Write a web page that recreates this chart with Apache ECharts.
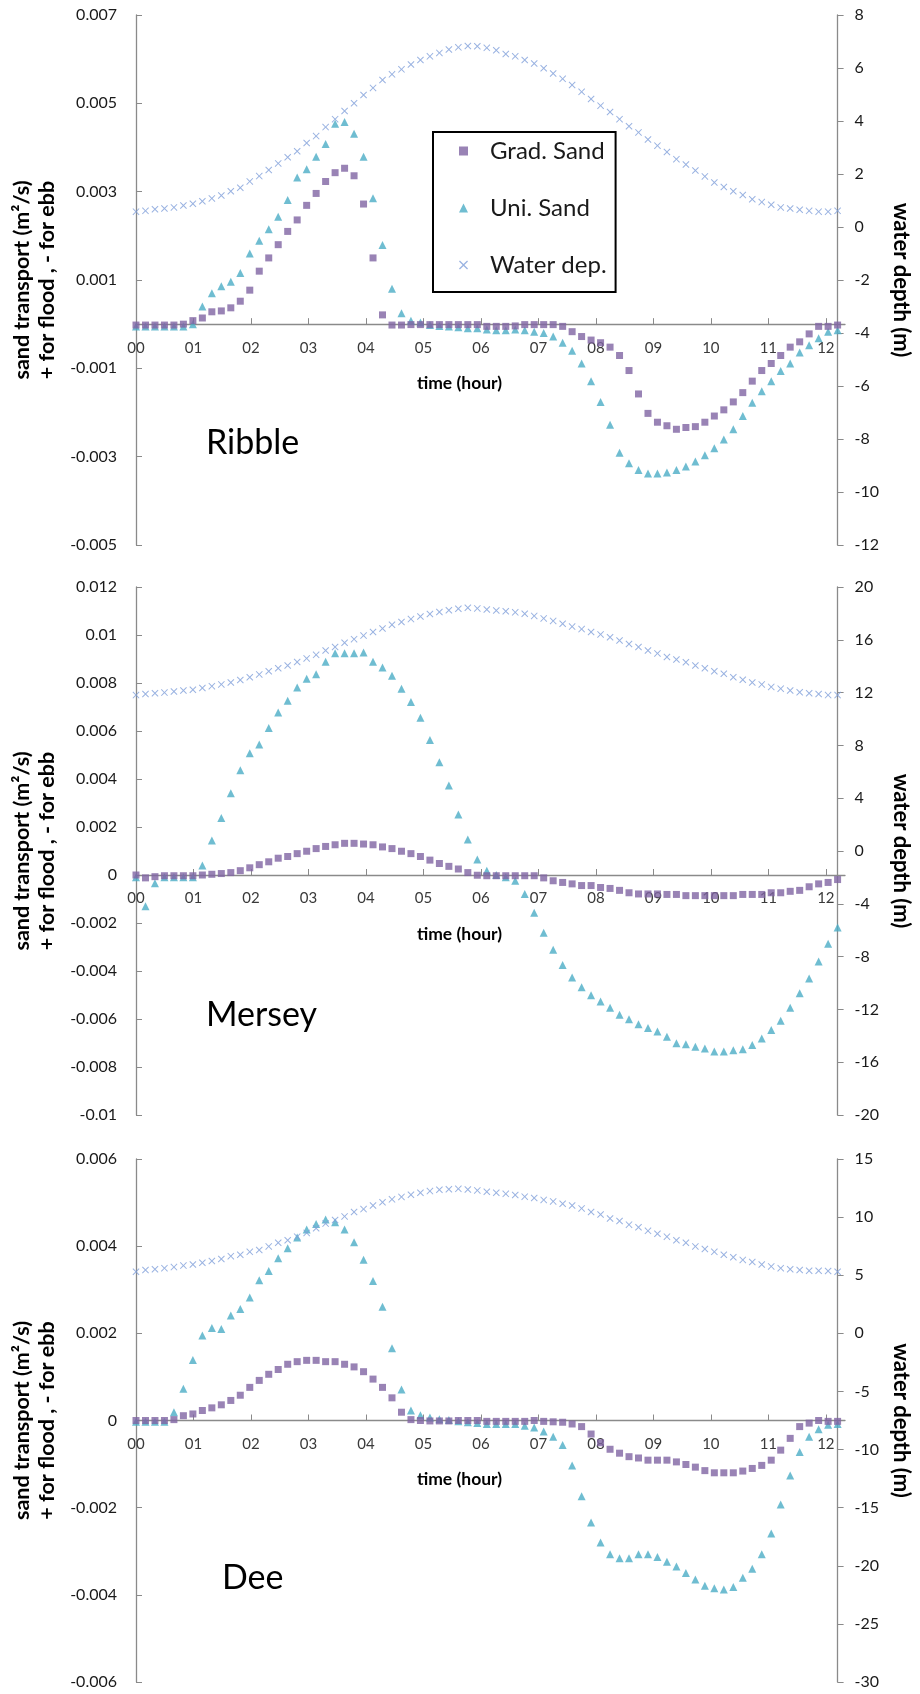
<!DOCTYPE html>
<html>
<head>
<meta charset="utf-8">
<title>Sand transport and water depth</title>
<script src="https://cdn.jsdelivr.net/npm/echarts@6/dist/echarts.min.js"></script>
<style>
    html, body { margin: 0; padding: 0; background: #fff; }
    #chart { width: 920px; height: 1694px; }
</style>
</head>
<body>
<div id="chart"></div>
<script>
// sand transport (m2/s, + flood / - ebb) and water depth (m), one value every 10 min (00:00 .. 12:20)
var hourLabels = ['00', '01', '02', '03', '04', '05', '06', '07', '08', '09', '10', '11', '12'];
var stepsPerHour = 6;
var stepCount = 75;

var ribbleGrad = [
    -0.00002, -0.00002, -0.00002, -0.00002, -0.00002, 0.00000,
    0.00008, 0.00014, 0.00028, 0.00030, 0.00037, 0.00052, 0.00077, 0.00120, 0.00150, 0.00180,
    0.00210, 0.00236, 0.00269, 0.00296, 0.00323, 0.00343, 0.00353, 0.00336, 0.00272, 0.00150, 0.00021,
    -0.00002, -0.00002,
    -0.00001, -0.00001, -0.00001, -0.00001, -0.00001, -0.00001, -0.00001, -0.00001,
    -0.00005, -0.00005, -0.00005, -0.00004, -0.00001, -0.00001, -0.00001, -0.00001,
    -0.00005, -0.00017, -0.00028, -0.00036, -0.00042, -0.00052, -0.00071, -0.00105, -0.00158, -0.00202,
    -0.00222, -0.00230, -0.00238, -0.00234, -0.00232, -0.00222, -0.00208, -0.00194, -0.00176, -0.00155,
    -0.00129, -0.00105, -0.00089, -0.00071, -0.00052, -0.00040, -0.00022, -0.00005, -0.00005, -0.00002
];
var ribbleUni = [
    -0.00005, -0.00005, -0.00005, -0.00005, -0.00005, -0.00005,
    0.00000, 0.00040, 0.00070, 0.00086, 0.00096, 0.00116, 0.00160, 0.00189, 0.00215, 0.00243,
    0.00281, 0.00332, 0.00351, 0.00379, 0.00408, 0.00454, 0.00458, 0.00431, 0.00379, 0.00285,
    0.00179, 0.00080, 0.00025, 0.00008, 0.00004, -0.00002, -0.00004, -0.00005, -0.00007,
    -0.00009, -0.00009, -0.00012, -0.00014, -0.00014, -0.00012, -0.00014, -0.00017, -0.00020, -0.00028,
    -0.00042, -0.00060, -0.00089, -0.00129, -0.00176, -0.00228, -0.00291, -0.00315, -0.00330, -0.00338,
    -0.00338, -0.00336, -0.00330, -0.00322, -0.00311, -0.00297, -0.00281, -0.00261, -0.00238, -0.00208,
    -0.00178, -0.00152, -0.00129, -0.00106, -0.00089, -0.00064, -0.00048, -0.00032, -0.00017, -0.00014
];
var ribbleWater = [
    0.58, 0.61, 0.67, 0.70, 0.74, 0.81, 0.88, 0.97, 1.08, 1.19, 1.35, 1.48, 1.72, 1.92, 2.15,
    2.40, 2.63, 2.86, 3.17, 3.43, 3.77, 4.07, 4.38, 4.67, 4.98, 5.25, 5.55, 5.76, 5.95, 6.13,
    6.30, 6.44, 6.57, 6.70, 6.78, 6.83, 6.82, 6.76, 6.67, 6.53, 6.44, 6.30, 6.17, 5.99, 5.79,
    5.59, 5.36, 5.10, 4.83, 4.58, 4.34, 4.07, 3.80, 3.57, 3.30, 3.07, 2.83, 2.56, 2.36, 2.13,
    1.91, 1.68, 1.51, 1.35, 1.21, 1.05, 0.94, 0.84, 0.74, 0.70, 0.65, 0.61, 0.58, 0.58, 0.61
];

var merseyGrad = [
    0.00000, -0.00012, -0.00007, -0.00003, -0.00003, -0.00003, -0.00003, 0.00000, 0.00003, 0.00006,
    0.00010, 0.00018, 0.00030, 0.00043, 0.00055, 0.00070, 0.00077, 0.00089, 0.00099, 0.00110,
    0.00119, 0.00126, 0.00132, 0.00132, 0.00129, 0.00126, 0.00117, 0.00110, 0.00099, 0.00089,
    0.00077, 0.00062, 0.00048, 0.00036, 0.00025, 0.00010, -0.00001,
    -0.00003, -0.00003, -0.00003, -0.00003, -0.00003, -0.00003,
    -0.00012, -0.00024, -0.00031, -0.00037, -0.00044, -0.00044, -0.00052, -0.00056, -0.00064, -0.00074,
    -0.00079, -0.00079, -0.00079, -0.00081, -0.00081, -0.00086, -0.00086, -0.00086, -0.00086, -0.00086,
    -0.00086, -0.00081, -0.00081, -0.00081, -0.00074, -0.00074, -0.00068, -0.00064, -0.00049, -0.00037,
    -0.00031, -0.00019
];
var merseyUni = [
    -0.00009, -0.00130, -0.00034, -0.00009, -0.00009, -0.00009, -0.00009, 0.00040, 0.00144, 0.00237,
    0.00341, 0.00436, 0.00507, 0.00544, 0.00613, 0.00677, 0.00726, 0.00781, 0.00818, 0.00836,
    0.00889, 0.00924, 0.00924, 0.00924, 0.00927, 0.00889, 0.00865, 0.00830, 0.00776, 0.00721,
    0.00655, 0.00563, 0.00470, 0.00373, 0.00252,
    0.00148, 0.00065, 0.00018, 0.00000, -0.00009, -0.00024, -0.00079, -0.00157, -0.00241, -0.00311,
    -0.00375, -0.00427, -0.00468, -0.00501, -0.00527, -0.00553, -0.00582, -0.00601, -0.00622, -0.00637,
    -0.00652, -0.00674, -0.00701, -0.00705, -0.00716, -0.00723, -0.00735, -0.00735, -0.00730, -0.00726,
    -0.00708, -0.00681, -0.00646, -0.00607, -0.00553, -0.00493, -0.00431, -0.00360, -0.00286, -0.00219
];
var merseyWater = [
    11.81, 11.89, 11.95, 12.00, 12.08, 12.16, 12.22, 12.35, 12.49, 12.62, 12.76, 12.95, 13.16, 13.38, 13.62,
    13.84, 14.05, 14.32, 14.59, 14.86, 15.19, 15.46, 15.78, 16.05, 16.32, 16.59, 16.86, 17.14, 17.35, 17.57,
    17.76, 17.95, 18.11, 18.24, 18.35, 18.43, 18.38, 18.30, 18.22, 18.16, 18.08, 17.97, 17.81, 17.62, 17.43,
    17.22, 17.00, 16.81, 16.59, 16.41, 16.19, 15.95, 15.68, 15.46, 15.19, 14.97, 14.70, 14.51, 14.30, 14.05,
    13.84, 13.62, 13.43, 13.16, 12.97, 12.76, 12.62, 12.43, 12.30, 12.16, 12.03, 11.95, 11.89, 11.81, 11.81
];

var deeGrad = [
    0.00000, 0.00000, 0.00000, 0.00000, 0.00002, 0.00011, 0.00015, 0.00023, 0.00029, 0.00036,
    0.00046, 0.00058, 0.00076, 0.00092, 0.00106, 0.00117, 0.00129, 0.00135, 0.00138, 0.00138,
    0.00135, 0.00135, 0.00129, 0.00123, 0.00112, 0.00095, 0.00076, 0.00052, 0.00019, 0.00002, 0.00000,
    -0.00001, -0.00001, -0.00001, 0.00000, 0.00000, 0.00000, -0.00002, -0.00002, -0.00002, -0.00002,
    -0.00002, 0.00000, -0.00002, -0.00003,
    -0.00004, -0.00008, -0.00014, -0.00031, -0.00051, -0.00066, -0.00075, -0.00083, -0.00086, -0.00091,
    -0.00091, -0.00091, -0.00095, -0.00101, -0.00107, -0.00115, -0.00120, -0.00120, -0.00120, -0.00116,
    -0.00110, -0.00103, -0.00091, -0.00068, -0.00041, -0.00014, -0.00006, 0.00000, -0.00002, -0.00002
];
var deeUni = [
    -0.00003, -0.00003, -0.00003, -0.00003, 0.00019, 0.00073, 0.00139, 0.00195, 0.00212, 0.00210,
    0.00241, 0.00256, 0.00282, 0.00322, 0.00343, 0.00372, 0.00395, 0.00420, 0.00438, 0.00451,
    0.00461, 0.00455, 0.00438, 0.00409, 0.00369, 0.00320, 0.00261, 0.00166, 0.00071, 0.00023,
    0.00012, 0.00007, 0.00003, 0.00001, -0.00002,
    -0.00004, -0.00006, -0.00008, -0.00008, -0.00008, -0.00008, -0.00012, -0.00016, -0.00025, -0.00037,
    -0.00056, -0.00103, -0.00174, -0.00234, -0.00280, -0.00307, -0.00316, -0.00316, -0.00307, -0.00307,
    -0.00313, -0.00324, -0.00335, -0.00350, -0.00365, -0.00379, -0.00385, -0.00388, -0.00382, -0.00361,
    -0.00340, -0.00307, -0.00259, -0.00193, -0.00126, -0.00072, -0.00037, -0.00020, -0.00010, -0.00008
];
var deeWater = [
    5.30, 5.45, 5.51, 5.61, 5.70, 5.83, 5.92, 6.07, 6.23, 6.39, 6.64, 6.76, 7.01, 7.17, 7.48,
    7.79, 8.01, 8.32, 8.64, 9.04, 9.44, 9.75, 10.06, 10.44, 10.69, 11.00, 11.28, 11.53, 11.74, 11.93,
    12.09, 12.24, 12.35, 12.40, 12.43, 12.38, 12.30, 12.18, 12.10, 12.00, 11.90, 11.76, 11.65, 11.48, 11.35,
    11.15, 11.00, 10.75, 10.44, 10.22, 9.88, 9.66, 9.35, 9.13, 8.82, 8.57, 8.32, 8.01, 7.79, 7.48,
    7.26, 7.01, 6.76, 6.54, 6.32, 6.14, 5.92, 5.76, 5.61, 5.51, 5.45, 5.39, 5.39, 5.36, 5.30
];

var seriesNames = ['Grad. Sand', 'Uni. Sand', 'Water dep.'];

// one entry per panel; layout (pixels) kept apart from the data above
var panels = [
    { title: 'Ribble', grad: ribbleGrad, uni: ribbleUni, water: ribbleWater,
      sand: [-0.005, 0.007, 0.002], depth: [-12, 8, 2], top: 15, height: 530, titleX: 206, titleY: 426 },
    { title: 'Mersey', grad: merseyGrad, uni: merseyUni, water: merseyWater,
      sand: [-0.01, 0.012, 0.002], depth: [-20, 20, 4], top: 587, height: 528, titleX: 206, titleY: 998 },
    { title: 'Dee', grad: deeGrad, uni: deeUni, water: deeWater,
      sand: [-0.006, 0.006, 0.002], depth: [-30, 15, 5], top: 1159, height: 523, titleX: 222, titleY: 1561 }
];

var times = [];
for (var s = 0; s < stepCount; s++) {
    var h = Math.floor(s / stepsPerHour);
    var m = (s % stepsPerHour) * 10;
    times.push(hourLabels[h] + ':' + (m < 10 ? '0' + m : m));
}

var FONT = 'Lato, "Open Sans", sans-serif';
var AXIS_GREY = '#8a8a8a';
var CROSS = 'path://M1,0L5,4L9,0L10,1L6,5L10,9L9,10L5,6L1,10L0,9L4,5L0,1Z';
var PLOT_LEFT = 136, PLOT_WIDTH = 709;

function onHour(index) {
    return index % stepsPerHour === 0;
}
function sandLabel(v) {
    return String(Number(v.toFixed(4)));
}

var grids = [], xAxes = [], yAxes = [], series = [], graphics = [];

panels.forEach(function (p, k) {
    // grid 2k holds the marks; grid 2k+1 ends at sand = 0 and carries the time axis
    var zeroOffset = p.height * p.sand[1] / (p.sand[1] - p.sand[0]);
    grids.push({ left: PLOT_LEFT, width: PLOT_WIDTH, top: p.top, height: p.height });
    grids.push({ left: PLOT_LEFT, width: PLOT_WIDTH, top: p.top, height: zeroOffset });

    xAxes.push({
        type: 'category', gridIndex: 2 * k, data: times, boundaryGap: false, show: false
    });
    xAxes.push({
        type: 'category',
        gridIndex: 2 * k + 1,
        data: times,
        boundaryGap: false,
        position: 'bottom',
        name: 'time (hour)',
        nameLocation: 'middle',
        nameGap: 50,
        nameTextStyle: { fontFamily: FONT, fontWeight: 'bold', fontSize: 17.5, color: '#000', padding: [0, 62, 0, 0] },
        axisLine: { onZero: false, lineStyle: { color: AXIS_GREY, width: 1.3 } },
        axisTick: { inside: true, length: 6, interval: onHour, lineStyle: { color: AXIS_GREY } },
        axisLabel: {
            interval: onHour, margin: 16, fontFamily: FONT, fontSize: 15, color: '#3a3a3a',
            formatter: function (v) { return v.slice(0, 2); }
        },
        splitLine: { show: false }
    });

    yAxes.push({
        type: 'value',
        gridIndex: 2 * k,
        position: 'left',
        min: p.sand[0], max: p.sand[1], interval: p.sand[2],
        name: 'sand transport (m²/s)\n+ for flood , - for ebb',
        nameLocation: 'middle',
        nameGap: 70,
        nameTextStyle: { fontFamily: FONT, fontWeight: 'bold', fontSize: 21.5, lineHeight: 25, color: '#000' },
        axisLine: { show: true, onZero: false, lineStyle: { color: AXIS_GREY, width: 1.3 } },
        axisTick: { show: true, inside: true, length: 6, lineStyle: { color: AXIS_GREY } },
        axisLabel: { margin: 19, fontFamily: FONT, fontSize: 16, color: '#1a1a1a', formatter: sandLabel },
        splitLine: { show: false }
    });
    yAxes.push({
        type: 'value',
        gridIndex: 2 * k,
        position: 'right',
        min: p.depth[0], max: p.depth[1], interval: p.depth[2],
        name: 'water depth (m)',
        nameLocation: 'middle',
        nameRotate: -90,
        nameGap: 49,
        nameTextStyle: { fontFamily: FONT, fontWeight: 'bold', fontSize: 22, color: '#000' },
        axisLine: { show: true, onZero: false, lineStyle: { color: AXIS_GREY, width: 1.3 } },
        axisTick: { show: true, inside: false, length: 6, lineStyle: { color: AXIS_GREY } },
        axisLabel: { margin: 17, fontFamily: FONT, fontSize: 16, color: '#1a1a1a' },
        splitLine: { show: false }
    });
    yAxes.push({
        type: 'value', gridIndex: 2 * k + 1, min: 0, max: 1, show: false
    });

    series.push({
        name: seriesNames[1], type: 'scatter', xAxisIndex: 2 * k, yAxisIndex: 3 * k,
        data: p.uni, symbol: 'triangle', symbolSize: 8, z: 2,
        itemStyle: { color: '#4BACC6' }
    });
    series.push({
        name: seriesNames[0], type: 'scatter', xAxisIndex: 2 * k, yAxisIndex: 3 * k,
        data: p.grad, symbol: 'rect', symbolSize: 7, z: 3,
        itemStyle: { color: '#8064A2' }
    });
    series.push({
        name: seriesNames[2], type: 'scatter', xAxisIndex: 2 * k, yAxisIndex: 3 * k + 1,
        data: p.water, symbol: CROSS, symbolSize: 7, z: 4,
        itemStyle: { color: '#7F9FD9' }
    });

    graphics.push({
        type: 'text', left: p.titleX, top: p.titleY,
        style: { text: p.title, fontFamily: FONT, fontSize: 34, fill: '#000' }
    });
});

var chart = echarts.init(document.getElementById('chart'));
chart.setOption({
    animation: false,
    backgroundColor: '#fff',
    grid: grids,
    xAxis: xAxes,
    yAxis: yAxes,
    legend: {
        orient: 'vertical',
        left: 433, top: 132,
        data: seriesNames,
        selectedMode: false,
        itemWidth: 9, itemHeight: 9, itemGap: 27,
        padding: [4, 9, 12, 26],
        borderColor: '#000', borderWidth: 2,
        textStyle: { fontFamily: FONT, fontSize: 24, lineHeight: 30, color: '#1a1a1a', padding: [0, 0, 0, 17] }
    },
    graphic: graphics,
    series: series
});
</script>
</body>
</html>
